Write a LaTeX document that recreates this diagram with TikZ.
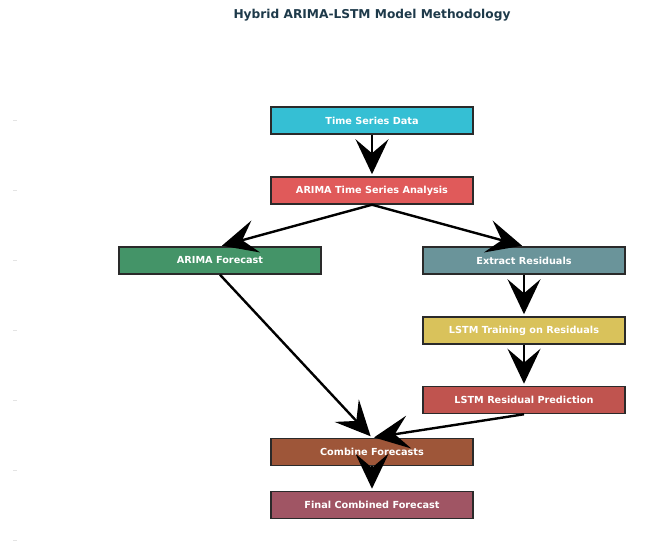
\documentclass[tikz,border=0pt]{standalone}
\usepackage{fontspec}
\setmainfont{DejaVu Sans}
\usetikzlibrary{arrows.meta}
\definecolor{ctitle}{HTML}{1E3A4A}
\definecolor{cborder}{HTML}{2A2A2A}
\definecolor{ccyan}{HTML}{35BFD4}
\definecolor{cred}{HTML}{E05A5A}
\definecolor{cgreen}{HTML}{449468}
\definecolor{cteal}{HTML}{6A949A}
\definecolor{cyellow}{HTML}{D9C25B}
\definecolor{cred2}{HTML}{C0544F}
\definecolor{cbrown}{HTML}{9E5639}
\definecolor{cmauve}{HTML}{A05564}
\definecolor{ctick}{HTML}{E4E4E4}
\tikzset{
  stepbox/.style={draw=cborder, line width=1.5pt, minimum width=202pt, minimum height=27pt,
    inner sep=0pt, text=white, font=\fontsize{9.7}{11}\selectfont\bfseries},
  flow/.style={line width=2.4pt, black, shorten >=2pt,
    -{Stealth[length=35pt, width=33pt, inset=14pt]}},
  tick/.style={ctick, line width=1pt}
}
\begin{document}
\begin{tikzpicture}[x=1pt, y=-1pt]
\useasboundingbox (0,0) rectangle (670,541);
\fill[white] (0,0) rectangle (670,541);
\node[font=\fontsize{12.2}{14}\selectfont\bfseries, text=ctitle] (title) at (372,15) {Hybrid ARIMA-LSTM Model Methodology};
\foreach \yy in {120,190,260,330,400,470,540} {
  \draw[tick] (13,\yy) -- (17,\yy);
}
\node[stepbox, fill=ccyan] (tsd) at (372,120.5) {Time Series Data};
\node[stepbox, fill=cred] (ana) at (372,190.5) {ARIMA Time Series Analysis};
\node[stepbox, fill=cgreen] (afc) at (220,260.5) {ARIMA Forecast};
\node[stepbox, fill=cteal] (res) at (524,260.5) {Extract Residuals};
\node[stepbox, fill=cyellow] (lstm) at (524,330.5) {LSTM Training on Residuals};
\node[stepbox, fill=cred2] (lpred) at (524,400) {LSTM Residual Prediction};
\node[stepbox, fill=cbrown] (comb) at (372,452) {Combine Forecasts};
\node[stepbox, fill=cmauve] (final) at (372,505) {Final Combined Forecast};
\draw[flow] (tsd.south) -- (ana.north);
\draw[flow] (ana.south) -- (afc.north);
\draw[flow] (ana.south) -- (res.north);
\draw[flow] (res.south) -- (lstm.north);
\draw[flow] (lstm.south) -- (lpred.north);
\draw[flow] (afc.south) -- (comb.north);
\draw[flow] (lpred.south) -- (comb.north);
\draw[flow] (comb.south) -- (final.north);
\end{tikzpicture}
\end{document}
